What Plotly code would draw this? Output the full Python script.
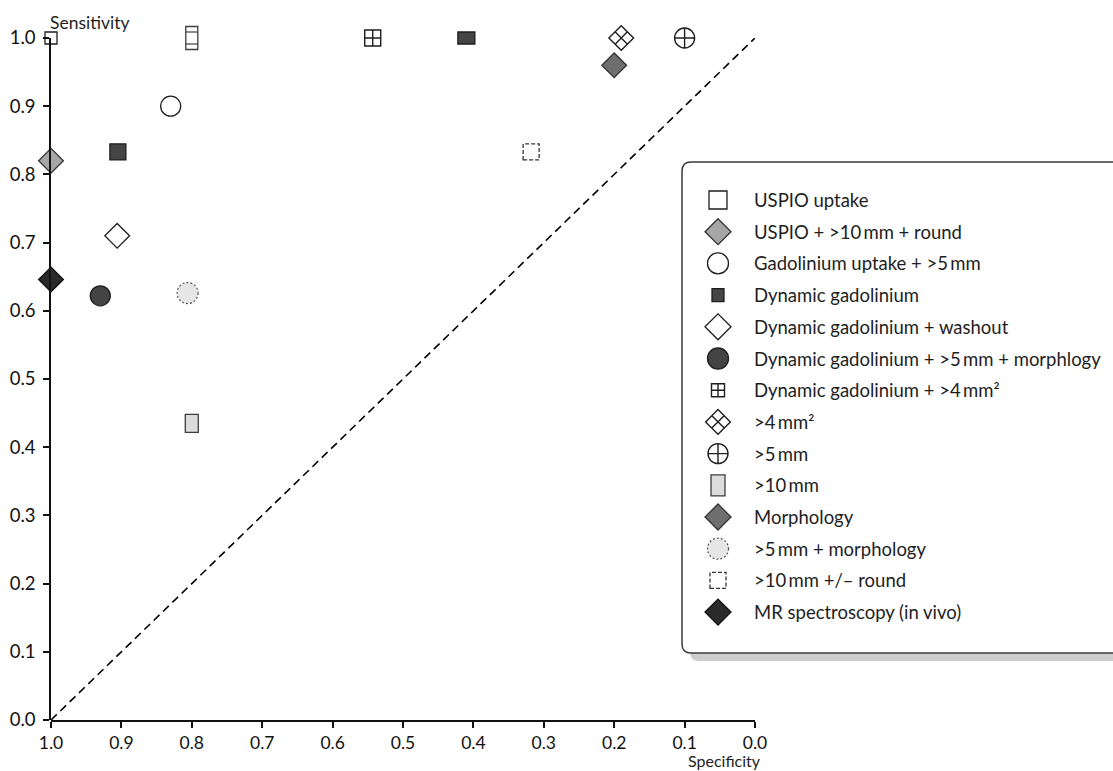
import plotly.graph_objects as go

# ---------------------------------------------------------------- data
spec_ticks = [1.0, 0.9, 0.8, 0.7, 0.6, 0.5, 0.4, 0.3, 0.2, 0.1, 0.0]
sens_ticks = [0.0, 0.1, 0.2, 0.3, 0.4, 0.5, 0.6, 0.7, 0.8, 0.9, 1.0]

series_names = [
    "USPIO uptake",
    "USPIO + >10\u2009mm + round",
    "Gadolinium uptake + >5\u2009mm",
    "Dynamic gadolinium",
    "Dynamic gadolinium + washout",
    "Dynamic gadolinium + >5\u2009mm + morphlogy",
    "Dynamic gadolinium + >4\u2009mm\u00b2",
    ">4\u2009mm\u00b2",
    ">5\u2009mm",
    ">10\u2009mm",
    "Morphology",
    ">5\u2009mm + morphology",
    ">10\u2009mm +/\u2013 round",
    "MR spectroscopy (in vivo)",
]
series_spec = [
    [1.0], [1.0], [0.83], [0.905, 0.41], [0.906], [0.93], [0.543],
    [0.19], [0.10], [0.80], [0.20], [0.806], [0.318], [1.0],
]
series_sens = [
    [1.0], [0.82], [0.90], [0.833, 1.0], [0.71], [0.622], [1.0],
    [1.0], [1.0], [0.435], [0.96], [0.626], [0.833], [0.646],
]

# study point drawn as a banded rectangle (no legend entry)
banded_spec = [0.80]
banded_sens = [1.0]

# chance line
chance_spec = [1.0, 0.0]
chance_sens = [0.0, 1.0]

# ---------------------------------------------------------------- styles
W, H = 1113, 771
FONT = "Lato"
INK = "#1e1e1e"

STYLES = [
    dict(kind="symbol", symbol="square-open", size=12, lsize=18, fill=INK, line=INK, lw=1.3),
    dict(kind="symbol", symbol="diamond", size=19, lsize=20, fill="#a6a6a6", line="#333333", lw=1.3),
    dict(kind="symbol", symbol="circle", size=20, lsize=21, fill="#ffffff", line=INK, lw=1.3),
    dict(kind="rect", sizes=[(16, 16), (17, 12)], lwh=(12, 13), fill="#454545", line=INK, lw=1.3),
    dict(kind="symbol", symbol="diamond", size=19, lsize=20, fill="#ffffff", line=INK, lw=1.3),
    dict(kind="symbol", symbol="circle", size=20, lsize=21, fill="#444444", line=INK, lw=1.3),
    dict(kind="symbol", symbol="square-cross-open", size=16, lsize=13, fill=INK, line=INK, lw=1.4),
    dict(kind="symbol", symbol="diamond-x-open", size=19, lsize=19, fill=INK, line=INK, lw=1.4),
    dict(kind="symbol", symbol="circle-cross-open", size=20, lsize=20, fill=INK, line=INK, lw=1.4),
    dict(kind="rect", sizes=[(13, 18)], lwh=(14, 21), fill="#dcdcdc", line="#3c3c3c", lw=1.3),
    dict(kind="symbol", symbol="diamond", size=19, lsize=20, fill="#6e6e6e", line="#333333", lw=1.3),
    dict(kind="circle", sizes=[(21, 21)], lwh=(21, 21), fill="#e6e6e6", line="#555555", lw=1.2, dash="2px,2px"),
    dict(kind="rect", sizes=[(16, 16)], lwh=(16, 16), fill="#ffffff", line="#333333", lw=1.3, dash="4px,2px"),
    dict(kind="symbol", symbol="diamond", size=19, lsize=20, fill="#2a2a2a", line="#111111", lw=1.3),
]

# pixel layout of the chart
PLOT_L, PLOT_R, PLOT_B = 51, 755, 720          # spec 1.0 .. 0.0, sens 0.0
SENS1_Y = 38                                    # pixel row of sens = 1.0
DATA_TOP = 10                                   # top of the data (clip) area
LEG_L, LEG_T, LEG_B, LEG_R = 682, 162, 653, 1130
LEG_ROW0, LEG_STEP, LEG_MX, LEG_TX = 38, 31.7, 36, 70


def fx(px):
    return px / W


def fy(py):
    return 1 - py / H


unit = PLOT_B - SENS1_Y
data_top = (PLOT_B - DATA_TOP) / unit

fig = go.Figure()
shapes = []


def pixel_shape(kind, xref, yref, x, y, w, h, st):
    return dict(
        type=kind, xref=xref, yref=yref,
        xsizemode="pixel", ysizemode="pixel", xanchor=x, yanchor=y,
        x0=-w / 2, x1=w / 2, y0=-h / 2, y1=h / 2,
        fillcolor=st["fill"],
        line=dict(color=st["line"], width=st["lw"], dash=st.get("dash", "solid")),
        layer="above",
    )


def symbol_trace(xs, ys, st, size, xaxis, yaxis, name):
    return go.Scatter(
        x=xs, y=ys, mode="markers", name=name, showlegend=False,
        xaxis=xaxis, yaxis=yaxis, cliponaxis=False, hoverinfo="skip",
        marker=dict(symbol=st["symbol"], size=size, color=st["fill"],
                    line=dict(color=st["line"], width=st["lw"])),
    )


# chance diagonal
fig.add_trace(go.Scatter(
    x=chance_spec, y=chance_sens, mode="lines", showlegend=False,
    xaxis="x", yaxis="y2", hoverinfo="skip",
    line=dict(color="#000000", width=1.6, dash="8px,5px"),
))

# study points
for name, xs, ys, st in zip(series_names, series_spec, series_sens, STYLES):
    if st["kind"] == "symbol":
        fig.add_trace(symbol_trace(xs, ys, st, st["size"], "x", "y", name))
    else:
        for (x, y, (w, h)) in zip(xs, ys, st["sizes"]):
            shapes.append(pixel_shape(st["kind"], "x", "y", x, y, w, h, st))

# banded rectangle
band_style = dict(fill="#ffffff", line="#3c3c3c", lw=1.3)
for x, y in zip(banded_spec, banded_sens):
    shapes.append(pixel_shape("rect", "x", "y", x, y, 12, 23, band_style))
    for off in (6, -6):
        shapes.append(dict(
            type="line", xref="x", yref="y",
            xsizemode="pixel", ysizemode="pixel", xanchor=x, yanchor=y,
            x0=-6, x1=6, y0=off, y1=off,
            line=dict(color="#3c3c3c", width=1.2), layer="above",
        ))

# ---------------------------------------------------------------- legend box
def rounded_path(x0, y0, x1, y1, r):
    # pixel rectangle with rounded corners, converted to paper coordinates
    pts = [
        f"M{fx(x0 + r)},{fy(y0)}",
        f"L{fx(x1 - r)},{fy(y0)}",
        f"Q{fx(x1)},{fy(y0)} {fx(x1)},{fy(y0 + r)}",
        f"L{fx(x1)},{fy(y1 - r)}",
        f"Q{fx(x1)},{fy(y1)} {fx(x1 - r)},{fy(y1)}",
        f"L{fx(x0 + r)},{fy(y1)}",
        f"Q{fx(x0)},{fy(y1)} {fx(x0)},{fy(y1 - r)}",
        f"L{fx(x0)},{fy(y0 + r)}",
        f"Q{fx(x0)},{fy(y0)} {fx(x0 + r)},{fy(y0)}",
        "Z",
    ]
    return " ".join(pts)


legend_shapes = [
    dict(type="path", xref="paper", yref="paper", layer="below",
         path=rounded_path(LEG_L + 8, LEG_T + 8, LEG_R + 8, LEG_B + 8, 9),
         fillcolor="#cdcdcd", line=dict(width=0)),
    dict(type="path", xref="paper", yref="paper", layer="below",
         path=rounded_path(LEG_L, LEG_T, LEG_R, LEG_B, 9),
         fillcolor="#ffffff", line=dict(color="#3a3a3a", width=1.5)),
]

annotations = []
for i, (name, st) in enumerate(zip(series_names, STYLES)):
    ry = LEG_ROW0 + LEG_STEP * i
    if st["kind"] == "symbol":
        fig.add_trace(symbol_trace([LEG_MX], [ry], st, st["lsize"], "x3", "y3", name))
    else:
        w, h = st["lwh"]
        shapes.append(pixel_shape(st["kind"], "x3", "y3", LEG_MX, ry, w, h, st))
    annotations.append(dict(
        xref="x3", yref="y3", x=LEG_TX, y=ry, text=name, showarrow=False,
        xanchor="left", yanchor="middle",
        font=dict(family=FONT, size=18.5, color=INK),
    ))

# axis titles
annotations.append(dict(
    xref="paper", yref="paper", x=fx(48), y=fy(22), text="Sensitivity",
    showarrow=False, xanchor="left", yanchor="middle",
    font=dict(family=FONT, size=17.5, color=INK),
))
annotations.append(dict(
    xref="paper", yref="paper", x=fx(724), y=fy(760), text="Specificity",
    showarrow=False, xanchor="center", yanchor="middle",
    font=dict(family=FONT, size=16, color=INK),
))

xtickfont = dict(family=FONT, size=17.5, color="#111111")
ytickfont = dict(family=FONT, size=18.5, color="#111111")

fig.update_layout(
    template="none",
    width=W, height=H,
    margin=dict(l=0, r=0, t=0, b=0, pad=0, autoexpand=False),
    paper_bgcolor="#ffffff",
    plot_bgcolor="rgba(0,0,0,0)",
    showlegend=False,
    shapes=legend_shapes + shapes,
    annotations=annotations,
    xaxis=dict(
        domain=[fx(PLOT_L), fx(PLOT_R)], range=[1.0, 0.0], anchor="y",
        showline=True, linecolor="#111111", linewidth=1.5,
        ticks="outside", ticklen=6, tickwidth=1.5, tickcolor="#111111",
        tickvals=spec_ticks, ticktext=[f"{v:.1f}" for v in spec_ticks],
        tickfont=xtickfont, showgrid=False, zeroline=False, fixedrange=True,
        automargin=False,
    ),
    yaxis=dict(
        domain=[fy(PLOT_B), fy(DATA_TOP)], range=[0.0, data_top], anchor="x",
        visible=False, fixedrange=True, automargin=False,
    ),
    yaxis2=dict(
        domain=[fy(PLOT_B), fy(SENS1_Y)], range=[0.0, 1.0], anchor="x",
        showline=True, linecolor="#111111", linewidth=1.5,
        ticks="outside", ticklen=6, tickwidth=1.5, tickcolor="#111111",
        tickvals=sens_ticks, ticktext=[f"{v:.1f}" for v in sens_ticks],
        tickfont=ytickfont, showgrid=False, zeroline=False, fixedrange=True,
        automargin=False, ticklabelstandoff=4,
    ),
    xaxis3=dict(
        domain=[fx(LEG_L), 1.0], range=[0, W - LEG_L], anchor="y3",
        visible=False, fixedrange=True, automargin=False,
    ),
    yaxis3=dict(
        domain=[fy(LEG_B), fy(LEG_T)], range=[LEG_B - LEG_T, 0], anchor="x3",
        visible=False, fixedrange=True, automargin=False,
    ),
)

fig.write_html("out.html")
